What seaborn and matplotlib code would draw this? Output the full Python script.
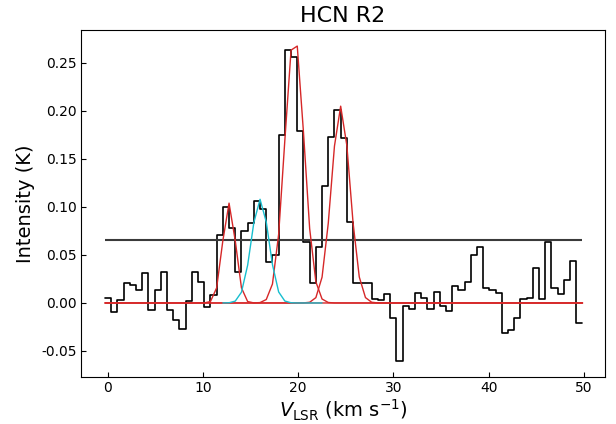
import numpy as np
import pandas as pd
import seaborn as sns
import matplotlib.pyplot as plt

# Spectrum channels: first channel edge (km/s), channel width, intensity per channel (K)
v_start = -0.28
chan_width = 0.651
intensity = [0.005, -0.0095, 0.003, 0.021, 0.019, 0.013, 0.031, -0.007, 0.014, 0.032,
             -0.007, -0.018, -0.027, 0.002, 0.032, 0.022, -0.004, 0.008, 0.071, 0.100,
             0.078, 0.032, 0.075, 0.083, 0.106, 0.098, 0.043, 0.050, 0.175, 0.264,
             0.256, 0.179, 0.063, 0.021, 0.058, 0.122, 0.173, 0.201, 0.172, 0.084,
             0.021, 0.021, 0.021, 0.004, 0.003, 0.009, -0.016, -0.060, -0.003, -0.006,
             0.0105, 0.005, -0.006, 0.011, -0.003, -0.0085, 0.018, 0.013, 0.022, 0.0495,
             0.058, 0.016, 0.014, 0.0105, -0.031, -0.0285, -0.016, 0.004, 0.005, 0.036,
             0.004, 0.064, 0.016, 0.009, 0.024, 0.044, -0.021]

# Gaussian fit components (amplitude K, centre km/s, sigma km/s)
red_amp = [0.104, 0.280, 0.205]
red_centre = [12.74, 19.60, 24.46]
red_sigma = [0.67, 1.00, 0.97]
cyan_amp = 0.108
cyan_centre = 16.0
cyan_sigma = 0.92
cyan_window = (19, 36)  # channel edges where the cyan component is drawn

threshold = 0.066  # detection level


def gauss(v, a, c, s):
    return a * np.exp(-(v - c) ** 2 / (2 * s ** 2))


edges = v_start + chan_width * np.arange(len(intensity) + 1)
spec = pd.DataFrame({'v': edges, 'T': np.append(intensity, intensity[-1])})

sns.set_style('ticks', {'axes.edgecolor': 'black', 'text.color': 'black',
                        'axes.labelcolor': 'black', 'xtick.color': 'black',
                        'ytick.color': 'black'})
plt.rcParams['font.family'] = ['DejaVu Sans']
plt.rcParams['xtick.direction'] = 'in'
plt.rcParams['ytick.direction'] = 'in'
plt.rcParams['axes.unicode_minus'] = False

fig = plt.figure(figsize=(6.16, 4.24), dpi=100)
ax = fig.add_axes([0.132, 0.112, 0.850, 0.8165])

sns.lineplot(data=spec, x='v', y='T', drawstyle='steps-post', color='black',
             linewidth=1.2, ax=ax)
ax.hlines(threshold, edges[0], edges[-1], color='#3a3a3a', linewidth=1.5)
for a, c, s in zip(red_amp, red_centre, red_sigma):
    sns.lineplot(x=edges, y=gauss(edges, a, c, s), color='#d62728', linewidth=1.0, ax=ax)
ve = edges[cyan_window[0]:cyan_window[1]]
sns.lineplot(x=ve, y=gauss(ve, cyan_amp, cyan_centre, cyan_sigma), color='#17becf',
             linewidth=1.0, ax=ax)

ax.set_xlim(-2.77, 52.2)
ax.set_ylim(-0.0766, 0.284)
ax.set_xticks([0, 10, 20, 30, 40, 50])
ax.set_yticks([-0.05, 0.0, 0.05, 0.10, 0.15, 0.20, 0.25])
ax.tick_params(labelsize=10)
ax.set_title('HCN R2', fontsize=16)
ax.set_xlabel(r'$V_{\mathrm{LSR}}$ (km s$^{-1}$)', fontsize=14, labelpad=2)
ax.set_ylabel('Intensity (K)', fontsize=14)

fig.savefig('out.png', dpi=100)
